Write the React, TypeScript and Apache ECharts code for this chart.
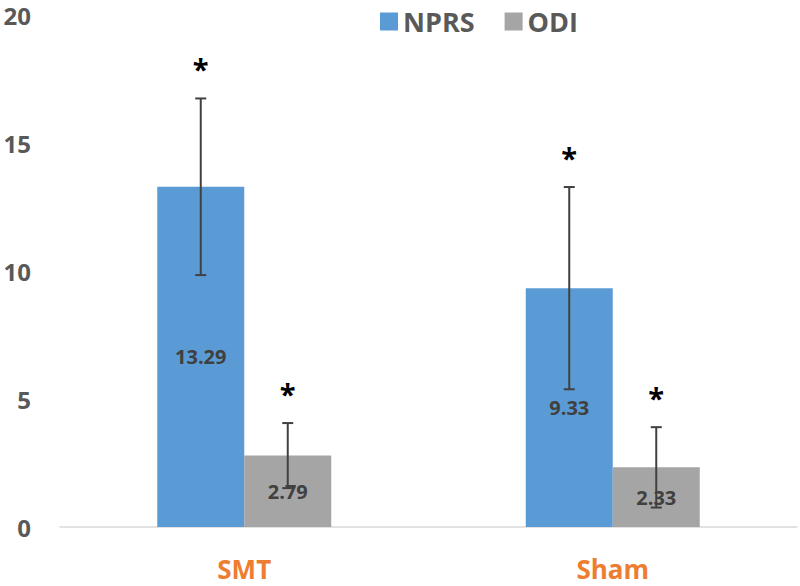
import React, { useEffect, useRef } from "react";
import * as echarts from "echarts";

const categories = ["SMT", "Sham"];
const seriesNames = ["NPRS", "ODI"];
const nprsMeans = [13.29, 9.33];
const odiMeans = [2.79, 2.33];
const nprsErrors = [3.45, 3.95];
const odiErrors = [1.27, 1.57];
const yTicks = [0, 5, 10, 15, 20];

const FONT = "'Open Sans', 'DejaVu Sans', sans-serif";
const BAR_W = 87;

function makeErrorSeries(name: string, means: number[], errs: number[], offset: number) {
  return {
    type: "custom",
    name: name + "-err",
    z: 5,
    silent: true,
    coordinateSystem: "cartesian2d",
    data: means.map((m, i) => [i, m, errs[i]]),
    renderItem: (params: any, api: any) => {
      const ci = api.value(0);
      const m = api.value(1);
      const e = api.value(2);
      const top = api.coord([ci, m + e]);
      const bot = api.coord([ci, m - e]);
      const mid = api.coord([ci, m / 2]);
      const x = top[0] + offset;
      const lineStyle = { stroke: "#404040", lineWidth: 2 };
      return {
        type: "group",
        children: [
          { type: "line", shape: { x1: x, y1: top[1], x2: x, y2: bot[1] }, style: lineStyle },
          { type: "line", shape: { x1: x - 5.5, y1: top[1], x2: x + 5.5, y2: top[1] }, style: lineStyle },
          { type: "line", shape: { x1: x - 5.5, y1: bot[1], x2: x + 5.5, y2: bot[1] }, style: lineStyle },
          {
            type: "text",
            x: x,
            y: top[1] - 30,
            style: {
              text: "*",
              fill: "#000000",
              font: "bold 29px " + FONT,
              align: "center",
              verticalAlign: "middle",
            },
          },
          {
            type: "text",
            x: x,
            y: mid[1],
            style: {
              text: m.toFixed(2),
              fill: "#404040",
              font: "bold 20px " + FONT,
              align: "center",
              verticalAlign: "middle",
            },
          },
        ],
      };
    },
  };
}

export default function App() {
  const ref = useRef<HTMLDivElement>(null);
  useEffect(() => {
    if (!ref.current) return;
    const chart = echarts.init(ref.current, null, { renderer: "svg" });
    chart.setOption({
      animation: false,
      backgroundColor: "#ffffff",
      grid: { left: 60, right: 3, top: 15, bottom: 59 },
      legend: {
        data: seriesNames,
        left: 375,
        top: 3,
        itemWidth: 18,
        itemHeight: 18,
        itemGap: 30,
        icon: "rect",
        textStyle: { color: "#595959", fontSize: 27, fontWeight: "bold", fontFamily: FONT },
      },
      xAxis: {
        type: "category",
        data: categories,
        axisLine: { show: true, lineStyle: { color: "#d9d9d9", width: 1.5 } },
        axisTick: { show: false },
        axisLabel: {
          color: "#ED7D31",
          fontSize: 26,
          lineHeight: 26,
          fontWeight: "bold",
          fontFamily: FONT,
          margin: 29,
        },
        splitLine: { show: false },
      },
      yAxis: {
        type: "value",
        min: yTicks[0],
        max: yTicks[yTicks.length - 1],
        interval: 5,
        axisLine: { show: false },
        axisTick: { show: false },
        splitLine: { show: false },
        axisLabel: {
          color: "#595959",
          fontSize: 24,
          fontWeight: "bold",
          fontFamily: FONT,
          margin: 29,
        },
      },
      series: [
        {
          type: "bar",
          name: seriesNames[0],
          data: nprsMeans,
          barWidth: BAR_W,
          barGap: "0%",
          itemStyle: { color: "#5B9BD5" },
          z: 2,
        },
        {
          type: "bar",
          name: seriesNames[1],
          data: odiMeans,
          barWidth: BAR_W,
          barGap: "0%",
          itemStyle: { color: "#A5A5A5" },
          z: 2,
        },
        makeErrorSeries(seriesNames[0], nprsMeans, nprsErrors, -BAR_W / 2),
        makeErrorSeries(seriesNames[1], odiMeans, odiErrors, BAR_W / 2),
      ],
    });
    return () => chart.dispose();
  }, []);
  return (
    <div
      ref={ref}
      style={{ position: "absolute", left: 0, top: 0, width: 800, height: 586 }}
    />
  );
}
